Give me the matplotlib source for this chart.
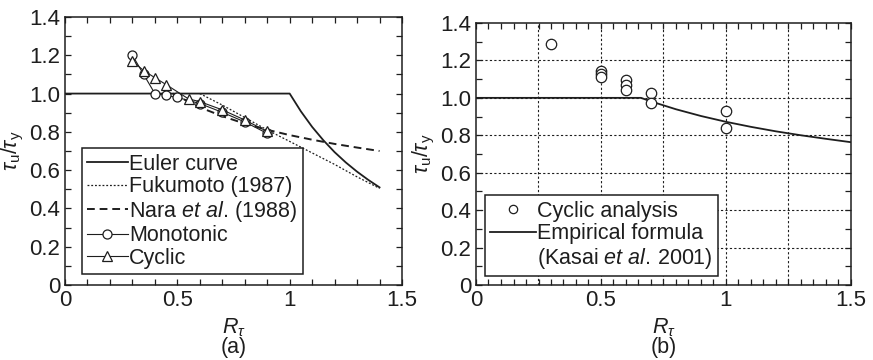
import matplotlib
matplotlib.use("Agg")
import matplotlib.pyplot as plt
from matplotlib.lines import Line2D
from matplotlib.ticker import MultipleLocator, FixedLocator

plt.rcParams["font.family"] = ["Liberation Sans", "DejaVu Sans"]
plt.rcParams["mathtext.fontset"] = "custom"
plt.rcParams["mathtext.rm"] = "Liberation Sans"
plt.rcParams["mathtext.it"] = "Liberation Sans:italic"
plt.rcParams["mathtext.bf"] = "Liberation Sans:bold"

INK = "#1e1e1e"
FS = 15.5
FS_TICK = 16

# ---- (a) strength curves and analysis results ----
euler_r = [0.0, 1.0, 1.05, 1.1, 1.15, 1.2, 1.25, 1.3, 1.35, 1.4]
euler_v = [1.0, 1.0, 0.907, 0.826, 0.756, 0.694, 0.640, 0.592, 0.549, 0.510]

fuku_r = [0.6, 0.7, 0.8, 0.9, 1.0, 1.1, 1.2, 1.3, 1.4]
fuku_v = [1.0, 0.94, 0.875, 0.81, 0.75, 0.69, 0.63, 0.565, 0.505]

nara_r = [0.48, 0.5, 0.6, 0.7, 0.8, 0.9, 1.0, 1.1, 1.2, 1.3, 1.4]
nara_v = [1.0, 0.987, 0.928, 0.882, 0.843, 0.811, 0.783, 0.759, 0.737, 0.718, 0.700]

mono_r = [0.3, 0.35, 0.4, 0.45, 0.5, 0.6, 0.7, 0.8, 0.9]
mono_v = [1.20, 1.10, 1.00, 0.99, 0.98, 0.948, 0.902, 0.852, 0.792]

cyc_r = [0.3, 0.35, 0.4, 0.45, 0.55, 0.6, 0.7, 0.8, 0.9]
cyc_v = [1.17, 1.12, 1.083, 1.047, 0.972, 0.958, 0.915, 0.862, 0.802]

# ---- (b) cyclic analysis vs. empirical formula ----
pts_r = [0.3, 0.5, 0.5, 0.5, 0.6, 0.6, 0.6, 0.7, 0.7, 1.0, 1.0]
pts_v = [1.29, 1.145, 1.128, 1.113, 1.095, 1.067, 1.043, 1.027, 0.972, 0.93, 0.838]

emp_r = [0.0, 0.66, 0.7, 0.8, 0.9, 1.0, 1.1, 1.2, 1.3, 1.4, 1.5]
emp_v = [1.0, 1.0, 0.981, 0.939, 0.903, 0.872, 0.845, 0.821, 0.800, 0.781, 0.763]

x_ticks = [0, 0.5, 1.0, 1.5]
x_tick_labels = ["0", "0.5", "1", "1.5"]
y_ticks = [0, 0.2, 0.4, 0.6, 0.8, 1.0, 1.2, 1.4]
y_tick_labels = ["0", "0.2", "0.4", "0.6", "0.8", "1.0", "1.2", "1.4"]

fig = plt.figure(figsize=(8.73, 3.6), dpi=100)
ax1 = fig.add_axes([65 / 873, 75 / 360, 337 / 873, 268 / 360])
ax2 = fig.add_axes([476 / 873, 75 / 360, 375 / 873, 262 / 360])


def style_axes(ax, xminor):
    ax.set_xlim(0, 1.5)
    ax.set_ylim(0, 1.4)
    ax.xaxis.set_major_locator(FixedLocator(x_ticks))
    ax.set_xticklabels(x_tick_labels)
    ax.yaxis.set_major_locator(FixedLocator(y_ticks))
    ax.set_yticklabels(y_tick_labels)
    ax.xaxis.set_minor_locator(MultipleLocator(xminor))
    ax.yaxis.set_minor_locator(MultipleLocator(0.1))
    ax.tick_params(which="both", direction="in", top=True, right=True,
                   colors=INK, width=0.9, labelsize=FS_TICK, labelcolor=INK)
    ax.tick_params(which="major", length=4, pad=3.5)
    ax.tick_params(which="minor", length=4)
    for s in ax.spines.values():
        s.set_linewidth(1.1)
        s.set_color(INK)
    ax.set_xlabel(r"$R_\tau$", fontsize=FS, color=INK, labelpad=4)
    ax.set_ylabel(r"$\tau_\mathrm{u}/\tau_\mathrm{y}$", fontsize=FS, color=INK, labelpad=2)


def style_legend(leg):
    leg.get_frame().set_linewidth(1.1)
    leg.get_frame().set_alpha(1)
    for t in leg.get_texts():
        t.set_color(INK)


style_axes(ax1, 0.1)
style_axes(ax2, 0.05)

# panel (a)
ax1.plot(euler_r, euler_v, color=INK, lw=1.3, label="Euler curve")
ax1.plot(fuku_r, fuku_v, color=INK, lw=0.9, ls=(0, (1.5, 1.5)), label="Fukumoto (1987)")
ax1.plot(nara_r, nara_v, color=INK, lw=1.4, ls=(0, (4, 2.5)),
         label=r"Nara $\mathit{et\ al.}\,$(1988)")
ax1.plot(mono_r, mono_v, color=INK, lw=0.8, marker="o", ms=6.5, mfc="white",
         mec=INK, mew=0.9, label="Monotonic")
ax1.plot(cyc_r, cyc_v, color=INK, lw=0.8, marker="^", ms=6.5, mfc="white",
         mec=INK, mew=0.9, label="Cyclic")

leg1 = ax1.legend(loc="lower left", bbox_to_anchor=(0.049, 0.041), borderaxespad=0,
                  fontsize=FS, frameon=True, fancybox=False, edgecolor=INK,
                  handlelength=1.9, handletextpad=0.05, labelspacing=0.07,
                  borderpad=0.25, numpoints=1)
style_legend(leg1)

# panel (b)
for y in [0.2, 0.4, 0.6, 0.8, 1.0, 1.2]:
    ax2.axhline(y, color=INK, lw=0.8, ls=(0, (2, 2)), zorder=0.5)
for x in [0.25, 0.5, 0.75, 1.0, 1.25]:
    ax2.axvline(x, color=INK, lw=0.8, ls=(0, (2, 2)), zorder=0.5)

ax2.plot(emp_r, emp_v, color=INK, lw=1.3, zorder=2)
ax2.plot(pts_r, pts_v, ls="none", marker="o", ms=7.5, mfc="white", mec=INK,
         mew=0.9, zorder=3)

h_pts = Line2D([], [], ls="none", marker="o", ms=6, mfc="white", mec=INK, mew=0.9)
h_emp = Line2D([], [], color=INK, lw=1.3)
h_blank = Line2D([], [], ls="none")
leg2 = ax2.legend([h_pts, h_emp, h_blank],
                  ["Cyclic analysis", "Empirical formula",
                   r"(Kasai $\mathit{et\ al.}\,$2001)"],
                  loc="lower left", bbox_to_anchor=(0.024, 0.034), borderaxespad=0,
                  fontsize=FS, frameon=True, fancybox=False, edgecolor=INK,
                  handlelength=2.1, handletextpad=0.05, labelspacing=0.07,
                  borderpad=0.25, numpoints=1)
style_legend(leg2)

fig.text((65 + 337 / 2) / 873, 12 / 360, "(a)", ha="center", va="center",
         fontsize=FS, color=INK)
fig.text((476 + 375 / 2) / 873, 12 / 360, "(b)", ha="center", va="center",
         fontsize=FS, color=INK)

fig.savefig("out.png", dpi=100)
